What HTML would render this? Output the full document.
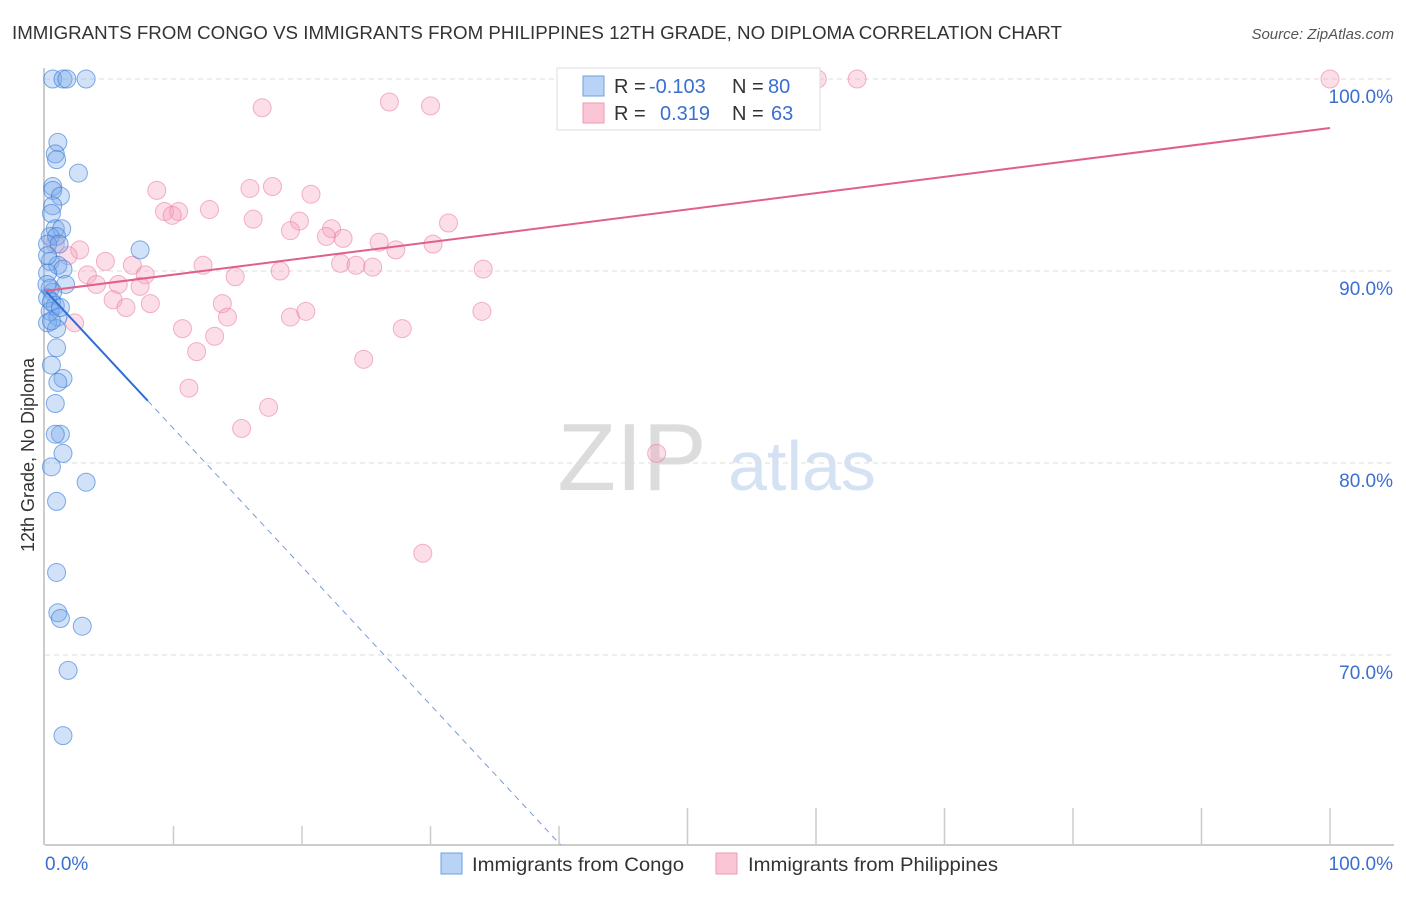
<!DOCTYPE html>
<html><head><meta charset="utf-8"><style>
body{margin:0;background:#fff;font-family:"Liberation Sans",sans-serif;}
svg text{font-family:"Liberation Sans",sans-serif;}
</style></head><body>
<svg id="chart" width="1406" height="892" xmlns="http://www.w3.org/2000/svg">
<text x="12" y="39" font-size="18" fill="#333" textLength="1050" lengthAdjust="spacingAndGlyphs">IMMIGRANTS FROM CONGO VS IMMIGRANTS FROM PHILIPPINES 12TH GRADE, NO DIPLOMA CORRELATION CHART</text>
<text x="1394" y="39" font-size="15" fill="#555" text-anchor="end" font-style="italic">Source: ZipAtlas.com</text>
<g>
<text x="632" y="490" font-size="96" fill="#dcdcdc" font-family="Liberation Serif, serif" text-anchor="middle">ZIP</text>
<text x="802" y="490" font-size="70" fill="#d4e2f4" text-anchor="middle">atlas</text>
</g>
<g id="grid"></g>
<g id="axes"></g>
<g id="marks"></g>
<text transform="translate(34,455) rotate(-90)" font-size="18" fill="#333" text-anchor="middle">12th Grade, No Diploma</text>
<g>
<rect x="557" y="68" width="263" height="62" fill="#fff" stroke="#ddd"/>
<rect x="583" y="76" width="21" height="20" fill="#b8d3f5" stroke="#6fa0e0"/>
<rect x="583" y="103" width="21" height="20" fill="#fac6d6" stroke="#ee9ab4"/>
<text x="614" y="93" font-size="20" fill="#333">R =</text>
<text x="649" y="93" font-size="20" fill="#3a6fd0">-0.103</text>
<text x="732" y="93" font-size="20" fill="#333">N =</text>
<text x="768" y="93" font-size="20" fill="#3a6fd0">80</text>
<text x="614" y="120" font-size="20" fill="#333">R =</text>
<text x="660" y="120" font-size="20" fill="#3a6fd0">0.319</text>
<text x="732" y="120" font-size="20" fill="#333">N =</text>
<text x="771" y="120" font-size="20" fill="#3a6fd0">63</text>
</g>
<g>
<rect x="441" y="853" width="21" height="21" fill="#b8d3f5" stroke="#6fa0e0"/>
<text x="472" y="871" font-size="19.5" fill="#333" textLength="212" lengthAdjust="spacingAndGlyphs">Immigrants from Congo</text>
<rect x="716" y="853" width="21" height="21" fill="#fac6d6" stroke="#ee9ab4"/>
<text x="748" y="871" font-size="19.5" fill="#333" textLength="250" lengthAdjust="spacingAndGlyphs">Immigrants from Philippines</text>
</g>
</svg>
<script>
const congoX=[0.6,1.4,1.7,3.2,1.0,0.8,0.9,2.6,0.6,0.6,1.2,0.6,0.5,0.8,1.3,0.4,0.9,0.2,1.1,7.4,0.4,1.0,1.4,0.2,1.6,0.4,0.6,0.2,0.8,0.4,1.0,0.2,0.9,0.9,0.5,1.4,1.0,0.8,1.2,0.8,1.4,0.5,3.2,0.9,0.9,1.0,1.2,2.9,1.8,1.4,0.2,0.5,0.15,0.5,1.2];
const congoY=[100,100,100,100,96.7,96.1,95.8,95.1,94.4,94.2,93.9,93.4,93.0,92.2,92.2,91.8,91.8,91.4,91.4,91.1,90.5,90.3,90.1,89.9,89.3,89.1,88.9,88.6,88.2,87.9,87.6,87.3,87.0,86.0,85.1,84.4,84.2,83.1,81.5,81.5,80.5,79.8,79.0,78.0,74.3,72.2,71.9,71.5,69.2,65.8,90.8,88.4,89.3,87.4,88.1];
const philX=[60.1,63.2,100,16.9,26.8,30.0,8.7,15.95,17.7,20.7,9.3,10.4,9.9,12.8,16.2,19.8,19.1,22.3,21.9,23.2,31.4,26.0,27.3,30.2,2.7,0.8,1.8,4.7,6.8,12.3,23.0,24.2,25.5,34.1,18.3,3.3,7.8,14.8,4.0,5.7,7.4,5.3,6.3,8.2,13.8,14.2,19.1,20.3,34.0,2.3,10.7,13.2,27.8,11.8,24.8,11.2,17.4,15.3,47.6,29.4];
const philY=[100,100,100,98.5,98.8,98.6,94.2,94.3,94.4,94.0,93.1,93.1,92.9,93.2,92.7,92.6,92.1,92.2,91.8,91.7,92.5,91.5,91.1,91.4,91.1,91.4,90.8,90.5,90.3,90.3,90.4,90.3,90.2,90.1,90.0,89.8,89.8,89.7,89.3,89.3,89.2,88.5,88.1,88.3,88.3,87.6,87.6,87.9,87.9,87.3,87.0,86.6,87.0,85.8,85.4,83.9,82.9,81.8,80.5,75.3];
const yTicks=[100,90,80,70];
const yTickLabels=["100.0%","90.0%","80.0%","70.0%"];
const xTicks=[0,10,20,30,40,50,60,70,80,90,100];
const congoTrend=[89.0,-0.72];
const philTrend=[88.96,0.0849];
const X=v=>45+v*12.85;
const Y=v=>79+(100-v)*19.2;
const NS="http://www.w3.org/2000/svg";
function mk(parent,tag,attrs){const e=document.createElementNS(NS,tag);for(const k in attrs)e.setAttribute(k,attrs[k]);document.getElementById(parent).appendChild(e);return e;}
yTicks.forEach((t,i)=>{
 const l=mk('grid','line',{x1:45,x2:1394,y1:Y(t),y2:Y(t),stroke:'#ddd','stroke-dasharray':'5,4'});
 
 
 const tx=mk('axes','text',{x:1393,y:Y(t)+24,'font-size':19,fill:'#3a6fd0','text-anchor':'end'});
 tx.textContent=yTickLabels[i];
 
 
});
const ax=mk('axes','line',{x1:45,x2:1394,y1:845,y2:845,stroke:'#bbb','stroke-width':1.5});


const ay=mk('axes','line',{x1:44,x2:44,y1:68,y2:845,stroke:'#bbb','stroke-width':1.5});


xTicks.forEach(t=>{if(t===0)return;
 const tk=mk('axes','line',{x1:X(t),x2:X(t),y1:t>=50?808:826,y2:845,stroke:'#ccc','stroke-width':1.5});
 
 
});
const xl0=mk('axes','text',{x:45,y:870,'font-size':19,fill:'#3a6fd0'});xl0.textContent='0.0%';


const xl1=mk('axes','text',{x:1393,y:870,'font-size':19,fill:'#3a6fd0','text-anchor':'end'});xl1.textContent='100.0%';


philX.forEach((x,i)=>{
 const c=mk('marks','circle',{cx:X(x),cy:Y(philY[i]),r:9,fill:'rgba(246,160,188,0.35)',stroke:'rgba(232,120,156,0.55)','stroke-width':1});
 
 
});
congoX.forEach((x,i)=>{
 const c=mk('marks','circle',{cx:X(x),cy:Y(congoY[i]),r:9,fill:'rgba(120,170,235,0.35)',stroke:'rgba(50,120,215,0.6)','stroke-width':1});
 
 
});
const cy=x=>congoTrend[0]+congoTrend[1]*x;
const xEnd=(60.1-congoTrend[0])/congoTrend[1];
const l1=mk('marks','line',{x1:X(0),y1:Y(cy(0)),x2:X(8),y2:Y(cy(8)),stroke:'#2f6fd6','stroke-width':2});


const l2=mk('marks','line',{x1:X(8),y1:Y(cy(8)),x2:X(xEnd),y2:Y(cy(xEnd)),stroke:'#7a9ad6','stroke-width':1,'stroke-dasharray':'6,5'});


const py=x=>philTrend[0]+philTrend[1]*x;
const l3=mk('marks','line',{x1:X(0),y1:Y(py(0)),x2:X(100),y2:Y(py(100)),stroke:'#e0608a','stroke-width':2});


</script>
</body></html>
